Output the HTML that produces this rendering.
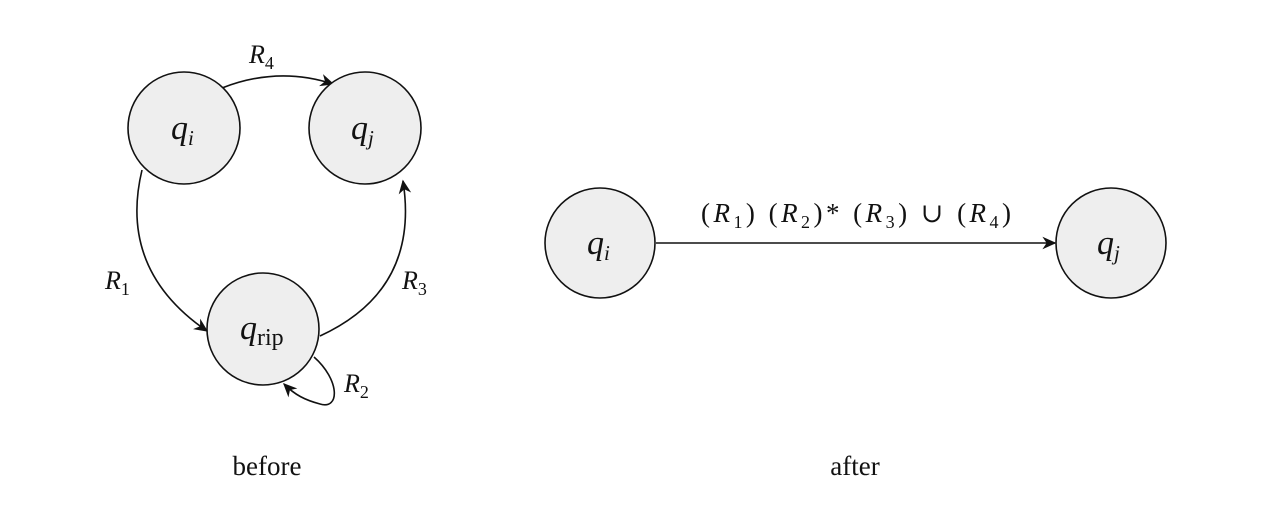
<!DOCTYPE html>
<html><head><meta charset="utf-8"><style>
html,body{margin:0;padding:0;background:#fff;}
svg{display:block}
text{font-family:"Liberation Serif","DejaVu Serif",serif;fill:#111}
.it{font-style:italic}
</style></head><body>
<svg width="1282" height="508" viewBox="0 0 1282 508" xmlns="http://www.w3.org/2000/svg">
<defs>
<marker id="a" viewBox="0 0 10 10" refX="9" refY="5" markerWidth="14" markerHeight="14" markerUnits="userSpaceOnUse" orient="auto">
<path d="M0,0.5 L10,5 L0,9.5 L3,5 Z" fill="#111"/>
</marker>
</defs>
<g fill="none" stroke="#111" stroke-width="1.6">
<path d="M222,88 Q278,66 333,84" marker-end="url(#a)"/>
<path d="M142,170 Q118,270 207,331" marker-end="url(#a)"/>
<path d="M320,336 Q420,290 403,181" marker-end="url(#a)"/>
<path d="M314,357 C340,380 340,410 320,404 C305,400 295,395 284,384" marker-end="url(#a)"/>
<path d="M656,243 L1055,243" marker-end="url(#a)"/>
</g>
<g fill="#eeeeee" stroke="#111" stroke-width="1.6">
<circle cx="184" cy="128" r="56"/>
<circle cx="365" cy="128" r="56"/>
<circle cx="263" cy="329" r="56"/>
<circle cx="600" cy="243" r="55"/>
<circle cx="1111" cy="243" r="55"/>
</g>
<text x="171" y="139" font-size="34" class="it">q<tspan font-size="21" dy="6">i</tspan></text>
<text x="351" y="139" font-size="34" class="it">q<tspan font-size="21" dy="6">j</tspan></text>
<text x="240" y="339" font-size="34" class="it">q<tspan font-size="24" dy="6" font-style="normal">rip</tspan></text>
<text x="587" y="254" font-size="34" class="it">q<tspan font-size="21" dy="6">i</tspan></text>
<text x="1097" y="254" font-size="34" class="it">q<tspan font-size="21" dy="6">j</tspan></text>
<text x="249" y="63" font-size="26" class="it">R<tspan font-size="18" dy="6" font-style="normal">4</tspan></text>
<text x="105" y="289" font-size="26" class="it">R<tspan font-size="18" dy="6" font-style="normal">1</tspan></text>
<text x="402" y="289" font-size="26" class="it">R<tspan font-size="18" dy="6" font-style="normal">3</tspan></text>
<text x="344" y="392" font-size="26" class="it">R<tspan font-size="18" dy="6" font-style="normal">2</tspan></text>
<text x="701" y="222" font-size="27" textLength="310" lengthAdjust="spacing">(<tspan class="it">R</tspan><tspan font-size="18" dy="6">1</tspan><tspan dy="-6">) (</tspan><tspan class="it">R</tspan><tspan font-size="18" dy="6">2</tspan><tspan dy="-6">)* (</tspan><tspan class="it">R</tspan><tspan font-size="18" dy="6">3</tspan><tspan dy="-6">) ∪ (</tspan><tspan class="it">R</tspan><tspan font-size="18" dy="6">4</tspan><tspan dy="-6">)</tspan></text>
<text x="267" y="475" font-size="27" text-anchor="middle">before</text>
<text x="855" y="475" font-size="27" text-anchor="middle">after</text>
</svg>
</body></html>
